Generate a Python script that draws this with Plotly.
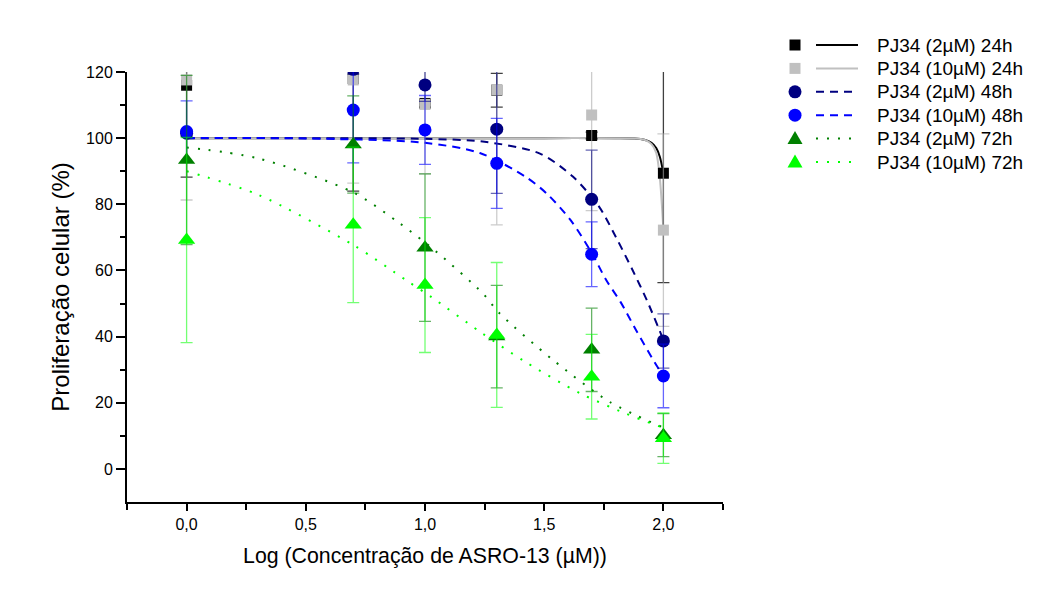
import plotly.graph_objects as go

# ---------------- data ----------------
dose_log = [0.0, 0.699, 1.0, 1.301, 1.699, 2.0]

pj2_24h = [116.0, 118.0, 110.5, 114.5, 100.8, 89.4]
pj2_24h_err = [27.8, 34.0, 1.1, 5.1, 1.0, 33.1]
pj10_24h = [117.6, 117.6, 110.2, 114.6, 107.0, 72.2]
pj10_24h_err = [36.3, 31.2, 21.0, 40.8, 28.9, 29.1]
pj2_48h = [101.5, 120.8, 116.1, 102.7, 81.5, 38.7]
pj2_48h_err = [1.0, 1.4, 5.0, 19.4, 14.9, 8.2]
pj10_48h = [102.0, 108.5, 102.5, 92.4, 64.9, 28.1]
pj10_48h_err = [9.3, 16.0, 10.4, 13.6, 9.8, 9.6]
pj2_72h = [93.4, 98.1, 66.9, 40.0, 36.0, 10.2]
pj2_72h_err = [25.6, 14.7, 22.3, 15.5, 12.6, 6.5]
pj10_72h = [69.2, 73.8, 55.6, 40.5, 27.9, 9.3]
pj10_72h_err = [31.0, 23.5, 20.4, 21.9, 12.8, 7.6]

# fitted curves
fit_x_24h = [0.0, 0.5, 1.0, 1.5, 1.8, 1.88, 1.92, 1.95, 1.97, 1.985, 2.0]
fit_pj2_24h = [100, 100, 100, 100, 100, 99.9, 99.5, 98.6, 97.0, 94.4, 89.4]
fit_pj10_24h = [100, 100, 100, 100, 100, 99.9, 99.5, 98.2, 95.5, 88.0, 72.2]
fit_x_pj2_48h = [0.0, 0.5, 1.0, 1.25, 1.48, 1.62, 1.73, 1.80, 1.87, 1.93, 2.0]
fit_pj2_48h = [100, 100, 99.8, 98.9, 95.4, 88.4, 79.3, 70.2, 60.2, 51.1, 39.0]
fit_x_pj10_48h = [0.0, 0.5, 1.0, 1.23, 1.42, 1.51, 1.61, 1.70, 1.76, 1.82, 1.885, 1.97, 2.0]
fit_pj10_48h = [100, 99.9, 98.6, 95.5, 88.4, 83.3, 75.3, 65.2, 57.1, 50.5, 42.0, 31.4, 28.1]
fit_x_pj2_72h = [0.0, 0.3, 0.699, 0.893, 1.047, 1.242, 1.312, 1.536, 1.774, 2.0]
fit_pj2_72h = [97.2, 93.9, 83.6, 74.3, 65.7, 53.1, 47.1, 33.0, 20.3, 12.5]
fit_x_pj10_72h = [0.0, 0.3, 0.699, 0.92, 1.03, 1.23, 1.42, 1.65, 1.84, 2.0]
fit_pj10_72h = [90.0, 82.9, 67.7, 57.1, 51.8, 41.5, 32.4, 22.9, 16.8, 12.4]

series_names = ["PJ34 (2µM) 24h", "PJ34 (10µM) 24h", "PJ34 (2µM) 48h",
                "PJ34 (10µM) 48h", "PJ34 (2µM) 72h", "PJ34 (10µM) 72h"]

x_tick_vals = [0, 0.5, 1.0, 1.5, 2.0]
x_tick_text = ["0,0", "0,5", "1,0", "1,5", "2,0"]
y_tick_vals = [0, 20, 40, 60, 80, 100, 120]

# ---------------- styles ----------------
colors = ["#000000", "#c0c0c0", "#000080", "#0000ff", "#008000", "#00ff00"]
err_colors = ["rgba(0,0,0,0.75)", "rgba(170,170,170,0.6)", "rgba(0,0,128,0.6)",
              "rgba(0,0,255,0.6)", "rgba(0,128,0,0.6)", "rgba(0,255,0,0.55)"]
symbols = ["square", "square", "circle", "circle", "triangle-up", "triangle-up"]
sizes = [11, 11, 13, 13, 15, 15]
dashes = ["solid", "solid", "8px,6px", "8px,6px", "2px,9px", "2px,9px"]

point_vals = [pj2_24h, pj10_24h, pj2_48h, pj10_48h, pj2_72h, pj10_72h]
point_errs = [pj2_24h_err, pj10_24h_err, pj2_48h_err, pj10_48h_err, pj2_72h_err, pj10_72h_err]
fit_xs = [fit_x_24h, fit_x_24h, fit_x_pj2_48h, fit_x_pj10_48h, fit_x_pj2_72h, fit_x_pj10_72h]
fit_ys = [fit_pj2_24h, fit_pj10_24h, fit_pj2_48h, fit_pj10_48h, fit_pj2_72h, fit_pj10_72h]

FONT = "Liberation Sans, Arial, sans-serif"
W, H = 1046, 590
ML, MR, MT, MB = 127, 323, 72, 88
PW, PH = W - ML - MR, H - MT - MB


def px_to_paper_x(px):
    return (px - ML) / PW


def px_to_paper_y(py):
    return 1 - (py - MT) / PH


fig = go.Figure()

# fitted curves
for i in range(6):
    fig.add_trace(go.Scatter(
        x=fit_xs[i], y=fit_ys[i], mode="lines", name=series_names[i],
        line=dict(color=colors[i], width=2, dash=dashes[i], shape="spline", smoothing=0.8),
        hoverinfo="skip", showlegend=False))

# data points with error bars
for i in range(6):
    fig.add_trace(go.Scatter(
        x=dose_log, y=point_vals[i], mode="markers", name=series_names[i],
        marker=dict(color=colors[i], symbol=symbols[i], size=sizes[i], line=dict(width=0)),
        error_y=dict(type="data", array=point_errs[i], visible=True,
                     color=err_colors[i], thickness=1.3, width=6),
        cliponaxis=True, showlegend=False))

# ---------------- legend (Origin style: marker, line sample, label) ----------------
LEG_ROW0, LEG_STEP = 45.0, 23.4
LEG_MARK_X, LEG_LINE_X, LEG_TEXT_X = 795, 837, 875
shapes, annotations = [], []
for i, name in enumerate(series_names):
    yp = px_to_paper_y(LEG_ROW0 + i * LEG_STEP)
    xm = px_to_paper_x(LEG_MARK_X)
    xl = px_to_paper_x(LEG_LINE_X)
    common = dict(xref="paper", yref="paper", xsizemode="pixel", ysizemode="pixel",
                  xanchor=xm, yanchor=yp, layer="above")
    if symbols[i] == "square":
        shapes.append(dict(type="rect", x0=-5.5, x1=5.5, y0=-5.5, y1=5.5,
                           fillcolor=colors[i], line=dict(width=0), **common))
    elif symbols[i] == "circle":
        shapes.append(dict(type="circle", x0=-6.5, x1=6.5, y0=-6.5, y1=6.5,
                           fillcolor=colors[i], line=dict(width=0), **common))
    else:
        shapes.append(dict(type="path", path="M -7.5 -5.5 L 7.5 -5.5 L 0 7.5 Z",
                           fillcolor=colors[i], line=dict(width=0), **common))
    shapes.append(dict(type="line", xref="paper", yref="paper", xsizemode="pixel",
                       ysizemode="pixel", xanchor=xl, yanchor=yp,
                       x0=-21, x1=21, y0=0, y1=0, layer="above",
                       line=dict(color=colors[i], width=2, dash=dashes[i])))
    annotations.append(dict(text=name, xref="paper", yref="paper",
                            x=px_to_paper_x(LEG_TEXT_X), y=yp, xanchor="left",
                            yanchor="middle", showarrow=False,
                            font=dict(family=FONT, size=19, color="black")))

axis_common = dict(showline=True, linecolor="black", linewidth=2, ticks="outside",
                   tickcolor="black", tickwidth=1.5, showgrid=False, zeroline=False,
                   tickfont=dict(family=FONT, size=16, color="black"), mirror=False)

fig.update_layout(
    width=W, height=H,
    margin=dict(l=ML, r=MR, t=MT, b=MB, autoexpand=False),
    paper_bgcolor="white", plot_bgcolor="white",
    font=dict(family=FONT, color="black"),
    xaxis=dict(range=[-0.25, 2.25], tickvals=x_tick_vals, ticktext=x_tick_text, ticklen=7,
               minor=dict(tickvals=[-0.25, 0.25, 0.75, 1.25, 1.75, 2.25], ticklen=6,
                          tickwidth=1.5, tickcolor="black", ticks="outside"),
               title=dict(text="Log (Concentração de ASRO-13 (µM))",
                          font=dict(family=FONT, size=21.3, color="black"), standoff=16),
               automargin=False, **axis_common),
    yaxis=dict(range=[-10, 120], tickvals=y_tick_vals, ticklen=9,
               minor=dict(tickvals=[10, 30, 50, 70, 90, 110], ticklen=5,
                          tickwidth=1.5, tickcolor="black", ticks="outside"),
               title=dict(text="Proliferação celular (%)",
                          font=dict(family=FONT, size=24, color="black"), standoff=10),
               automargin=False, **axis_common),
    shapes=shapes,
    annotations=annotations,
    showlegend=False,
)

fig.write_html("out.html")
